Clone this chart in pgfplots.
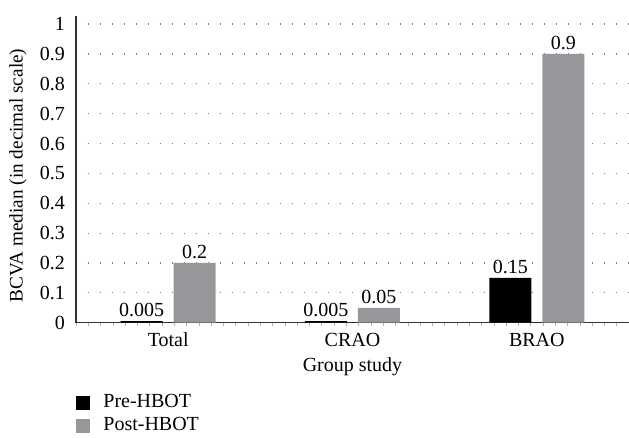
\documentclass[border=0pt]{standalone}
\usepackage{pgfplots}
\pgfplotsset{compat=1.18}
\usepackage{fontspec}
\setmainfont{Liberation Serif}
\definecolor{barblack}{RGB}{0,0,0}
\definecolor{bargray}{RGB}{150,151,155}
\definecolor{axisgray}{RGB}{50,50,50}
\begin{document}
\fontsize{10pt}{12pt}\selectfont
\begin{tikzpicture}
\path[use as bounding box] (-38pt,-57.65pt) rectangle (276.5pt,161.35pt);
\begin{axis}[
  at={(0,0)}, anchor=south west,
  scale only axis,
  width=276.5pt, height=153.35pt,
  ybar=5.5pt, bar width=21pt,
  xmin=-0.5, xmax=2.5,
  ymin=0, ymax=1.027,
  axis x line*=bottom, axis y line*=left,
  axis line style={axisgray, line width=0.7pt, -},
  xtick=data,
  xticklabels={Total,CRAO,BRAO},
  minor xtick={-0.5,-0.43333,...,2.5},
  ytick={0,0.1,...,1},
  yticklabels={0,0.1,0.2,0.3,0.4,0.5,0.6,0.7,0.8,0.9,1},
  major tick length=0pt,
  minor tick length=1.5pt,
  tick align=outside,
  minor x tick style={gray!60, line width=0.3pt},
  ytick style={draw=none},
  /pgf/number format/assume math mode=true,
  xticklabel style={yshift=-1.5pt},
  yticklabel style={xshift=-2pt},
  ymajorgrids,
  major grid style={gray, line width=0.6pt, dash pattern=on 0.5pt off 5.5pt},
  xlabel={Group study},
  xlabel style={at={(axis description cs:0.5,0)}, anchor=base, yshift=-24.5pt},
  ylabel={BCVA median (in decimal scale)},
  ylabel style={at={(axis description cs:-0.1049,0.48)}, anchor=center, rotate=0,
    font=\fontsize{9.6pt}{11pt}\selectfont},
  nodes near coords,
  point meta=explicit symbolic,
  every node near coord/.append style={font=\fontsize{10pt}{12pt}\selectfont, inner sep=2pt},
  legend style={at={(axis description cs:0,-0.23)}, anchor=north west,
    draw=none, fill=none, inner sep=0pt, row sep=2.5pt,
    nodes={inner sep=0pt, text height=7pt, text depth=2pt},
    /tikz/every odd column/.append style={column sep=6.5pt}},
  legend cell align=left,
  legend image code/.code={\fill[#1] (0pt,-3.5pt) rectangle (7pt,3.5pt);},
]
\addplot[fill=barblack, draw=none] coordinates {
  (0,0.005) [0.005]
  (1,0.005) [0.005]
  (2,0.15) [0.15]
};
\addlegendentry{Pre-HBOT}
\addplot[fill=bargray, draw=none] coordinates {
  (0,0.2) [0.2]
  (1,0.05) [0.05]
  (2,0.9) [0.9]
};
\addlegendentry{Post-HBOT}
\end{axis}
\end{tikzpicture}
\end{document}
